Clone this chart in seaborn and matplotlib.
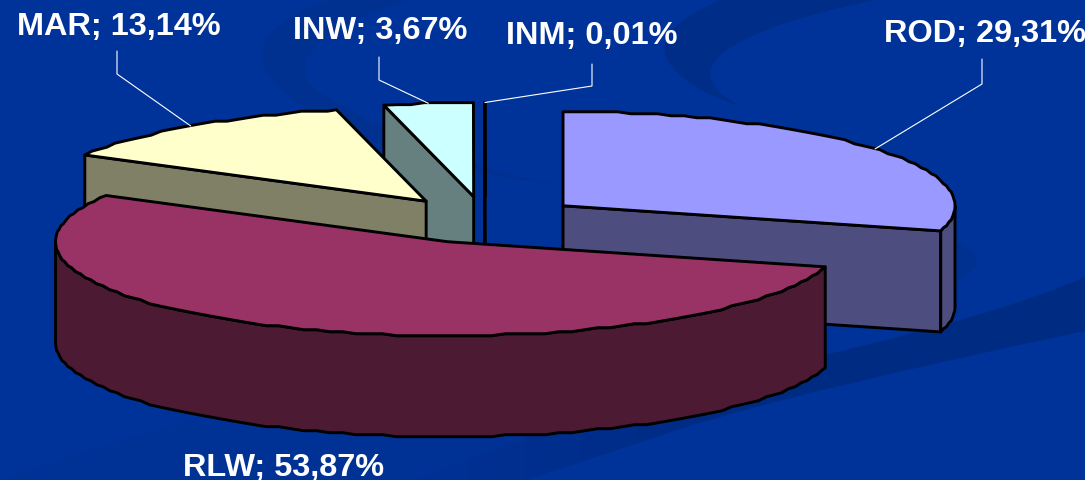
import numpy as np
import matplotlib
matplotlib.use("Agg")
import matplotlib.pyplot as plt
from matplotlib.colors import LinearSegmentedColormap
from matplotlib.patches import Polygon, PathPatch, Ellipse
from matplotlib.path import Path
import seaborn as sns

# Share of each category; paint order runs from the back of the pie to the front
categories = ["ROD", "INM", "INW", "MAR", "RLW"]
clockwise_order = ["ROD", "RLW", "MAR", "INW", "INM"]
shares = {"ROD": 29.31, "RLW": 53.87, "MAR": 13.14, "INW": 3.67, "INM": 0.01}
top_colours = {"ROD": "#9999FF", "RLW": "#993366", "MAR": "#FFFFCC",
               "INW": "#CCFFFF", "INM": "#6666CC"}
side_colours = {"ROD": "#4D4D80", "RLW": "#4D1A33", "MAR": "#808066",
                "INW": "#668080", "INM": "#333366"}

label_text = {k: f"{k}; {shares[k]:.2f}%".replace(".", ",") for k in categories}
label_anchor = {"MAR": (17, 35), "INW": (293, 39), "INM": (506, 44),
                "ROD": (884, 42), "RLW": (183, 476)}
leader_bend = {"ROD": [(982, 60), (982, 85)], "MAR": [(117, 52), (117, 75)],
               "INW": [(379, 58), (379, 81)], "INM": [(592, 65), (592, 87)]}

# Projection of the tilted pie onto the figure, in pixels
RX, RY = 392.0, 94.0
DEPTH = 101.0
EXPLODE = 0.25
CENTRE = (485.0, 221.0)
EDGE_LW = 2.1

sns.set_theme(style="white")
plt.rcParams["font.family"] = ["Liberation Sans", "DejaVu Sans"]
BACKGROUND = sns.color_palette(["#003399"])[0]

fig = plt.figure(figsize=(10.85, 4.81), dpi=100, facecolor=BACKGROUND)
ax = fig.add_axes([0, 0, 1, 1])
ax.set_xlim(0, 1085)
ax.set_ylim(481, 0)
ax.axis("off")


def curve(points):
    """Shape through quadratic segments (start, ctrl, end, ctrl, end, ...)."""
    codes = [Path.MOVETO] + [Path.CURVE3] * (len(points) - 1)
    return Path(points, codes)


# Darker swirls of the slide backdrop
right_swirl = [(723, 0), (650, 30), (668, 62), (685, 90), (740, 107), (700, 85), (713, 65),
               (735, 30), (880, 0), (800, 0), (723, 0)]
left_swirl = [(330, 0), (250, 30), (263, 65), (272, 95), (345, 132), (440, 172), (563, 187),
              (440, 164), (345, 108), (295, 85), (307, 60), (325, 25), (413, 0), (370, 0), (330, 0)]
ax.add_patch(PathPatch(curve(right_swirl), fc="#002D88", ec="none", zorder=1))
ax.add_patch(PathPatch(curve(left_swirl), fc="#003090", ec="none", zorder=1))
ax.add_patch(Ellipse((900, 262), 154, 56, fc="#003090", ec="none", zorder=1))
ax.add_patch(PathPatch(curve([(0, 481), (100, 445), (190, 422), (300, 420), (530, 437),
                              (470, 460), (413, 481), (200, 481), (0, 481)]),
                       fc="#003296", ec="none", zorder=1))

# Long band sweeping up to the right edge, fading out towards the bottom left
band = [(413, 481), (470, 460), (530, 437), (680, 392), (828, 355), (1000, 315), (1085, 278),
        (1085, 305), (1085, 332), (800, 392), (680, 430), (600, 457), (527, 481), (470, 481), (413, 481)]
fade = LinearSegmentedColormap.from_list("band_fade", ["#003196", "#002B82", "#002B82"])
band_image = ax.imshow(np.linspace(0, 1, 256)[None, :], extent=(413, 1085, 481, 278), cmap=fade,
                       aspect="auto", zorder=1)
band_image.set_clip_path(PathPatch(curve(band), transform=ax.transData))
ax.set_xlim(0, 1085)
ax.set_ylim(481, 0)


def rim(theta1, theta2, centre):
    """Rim of the slice between two clockwise angles, drawn with coarse chord steps."""
    angles = np.arange(theta1, theta2, 2.0)
    angles = np.append(angles, theta2)
    rad = np.radians(angles)
    x = centre[0] + RX * np.sin(rad)
    dy = -RY * np.cos(rad)
    inner = np.round(dy[1:-1] / 2.0) * 2.0
    y = centre[1] + np.concatenate(([dy[0]], inner, [dy[-1]]))
    return np.column_stack([x, y])


def face(points, colour, z):
    ax.add_patch(Polygon(points, closed=True, fc=colour, ec="black", lw=EDGE_LW,
                         joinstyle="round", zorder=z))


drop = np.array([0.0, DEPTH])
boundaries = np.concatenate(([0.0], np.cumsum([shares[k] for k in clockwise_order]))) * 3.6
slices = {}
for i, name in enumerate(clockwise_order):
    t1, t2 = boundaries[i], boundaries[i + 1]
    mid = np.radians((t1 + t2) / 2)
    c = np.array([CENTRE[0] + EXPLODE * RX * np.sin(mid), CENTRE[1] - EXPLODE * RY * np.cos(mid)])
    slices[name] = dict(t1=t1, t2=t2, mid=mid, c=c)

# Painted back to front so nearer slices cover the farther ones
for order, name in enumerate(categories):
    s = slices[name]
    t1, t2, c = s["t1"], s["t2"], s["c"]
    z = 3 + order
    for t, visible in ((t1, np.sin(np.radians(t1)) < -1e-9), (t2, np.sin(np.radians(t2)) > 1e-9)):
        if visible:
            edge = c + np.array([RX * np.sin(np.radians(t)), -RY * np.cos(np.radians(t))])
            face([c, edge, edge + drop, c + drop], side_colours[name], z)
    lo, hi = max(t1, 90.0), min(t2, 270.0)
    if lo < hi:
        outer = rim(lo, hi, c)
        face(np.vstack([outer, (outer + drop)[::-1]]), side_colours[name], z)
    face(np.vstack([c, rim(t1, t2, c)]), top_colours[name], z)

# Leader lines run from the middle of each slice's rim to its label
for name, bend in leader_bend.items():
    s = slices[name]
    end = s["c"] + np.array([RX * np.sin(s["mid"]), -RY * np.cos(s["mid"])])
    path = np.vstack([bend, end])
    ax.plot(path[:, 0], path[:, 1], color="white", lw=0.8, zorder=20, solid_joinstyle="miter")

FONT_PT = 32.5 * 72 / 100
for name in categories:
    x, y = label_anchor[name]
    ax.text(x, y, label_text[name], color="white", fontsize=FONT_PT, fontweight="bold",
            ha="left", va="baseline", zorder=21)

fig.savefig("out.png", dpi=100, facecolor=fig.get_facecolor())
